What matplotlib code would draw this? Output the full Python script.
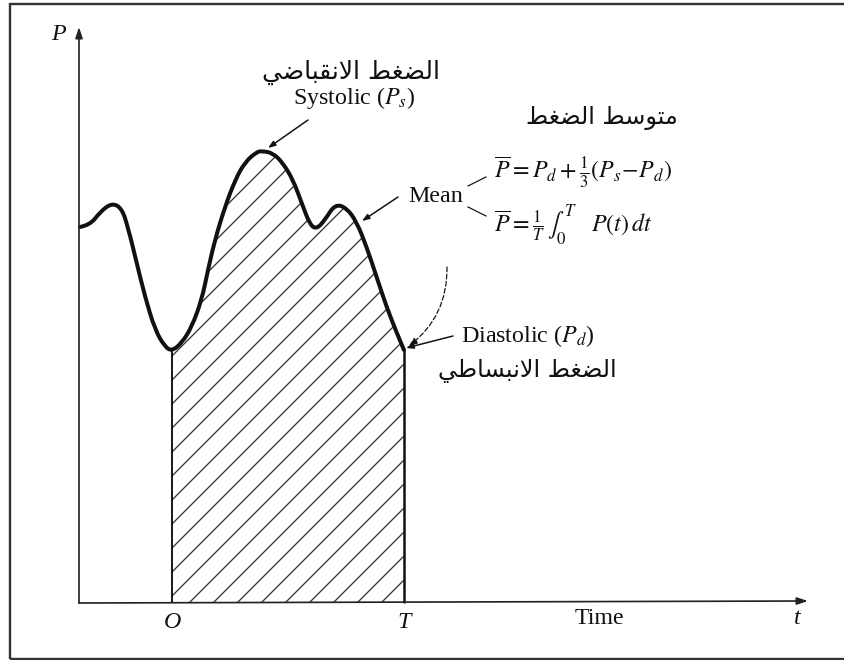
import matplotlib
matplotlib.use("Agg")
import matplotlib.pyplot as plt
from matplotlib.patches import FancyArrowPatch, PathPatch, Rectangle
from matplotlib.path import Path

# pressure curve: t in cycle units (O = 0, T = 1), P in arbitrary units
t = [-0.397, -0.353, -0.310, -0.260, -0.217, -0.190, -0.152, -0.116, -0.073, -0.030,
     0.000, 0.042, 0.085, 0.128, 0.155, 0.185, 0.228, 0.272, 0.315, 0.365,
     0.387, 0.435, 0.478, 0.522, 0.559, 0.595, 0.624, 0.659, 0.703, 0.753,
     0.796, 0.839, 0.882, 0.925, 0.969, 1.000]
p = [3.76, 3.78, 3.91, 4.00, 3.95, 3.76, 3.40, 3.06, 2.73, 2.56,
     2.52, 2.60, 2.76, 3.03, 3.33, 3.63, 3.96, 4.23, 4.41, 4.51,
     4.52, 4.50, 4.40, 4.23, 4.00, 3.78, 3.74, 3.83, 3.99, 3.95,
     3.81, 3.56, 3.26, 2.96, 2.70, 2.53]

tick_pos = [0, 1]
tick_labels = ["O", "T"]

systolic_ar = "الضغط الانقباضي"
mean_ar = "متوسط الضغط"
diastolic_ar = "الضغط الانبساطي"

# picture geometry: O sits at x=172px, T at x=404px, the time axis at y=603px
X0, SX, Y0, SY = 172, 232, 603, 100
W, H = 844, 660

# presentation forms (isolated, final, initial, medial)
FORMS = {
    "\u0627": ("\uFE8D", "\uFE8E", None, None),
    "\u0628": ("\uFE8F", "\uFE90", "\uFE91", "\uFE92"),
    "\u062A": ("\uFE95", "\uFE96", "\uFE97", "\uFE98"),
    "\u0633": ("\uFEB1", "\uFEB2", "\uFEB3", "\uFEB4"),
    "\u0636": ("\uFEBD", "\uFEBE", "\uFEBF", "\uFEC0"),
    "\u0637": ("\uFEC1", "\uFEC2", "\uFEC3", "\uFEC4"),
    "\u063A": ("\uFECD", "\uFECE", "\uFECF", "\uFED0"),
    "\u0642": ("\uFED5", "\uFED6", "\uFED7", "\uFED8"),
    "\u0644": ("\uFEDD", "\uFEDE", "\uFEDF", "\uFEE0"),
    "\u0645": ("\uFEE1", "\uFEE2", "\uFEE3", "\uFEE4"),
    "\u0646": ("\uFEE5", "\uFEE6", "\uFEE7", "\uFEE8"),
    "\u0648": ("\uFEED", "\uFEEE", None, None),
    "\u064A": ("\uFEF1", "\uFEF2", "\uFEF3", "\uFEF4"),
    "\uFEFB": ("\uFEFB", "\uFEFC", None, None),
}
RIGHT_ONLY = {"\u0627", "\u0648", "\uFEFB"}


def shape_arabic(text):
    # matplotlib has no shaping engine: pick joined forms by hand and flip for RTL
    chars = list(text.replace("\u0644\u0627", "\uFEFB"))
    out = []
    for i, ch in enumerate(chars):
        if ch not in FORMS:
            out.append(ch)
            continue
        prev = chars[i - 1] if i > 0 else ""
        nxt = chars[i + 1] if i + 1 < len(chars) else ""
        join_prev = prev in FORMS and prev not in RIGHT_ONLY
        join_next = ch not in RIGHT_ONLY and nxt in FORMS
        iso, fin, ini, med = FORMS[ch]
        if join_prev and join_next:
            out.append(med)
        elif join_prev:
            out.append(fin)
        elif join_next:
            out.append(ini)
        else:
            out.append(iso)
    return "".join(reversed(out))


def at(x, y):
    """picture pixel -> data coordinates"""
    return (x - X0) / SX, (Y0 - y) / SY


plt.rcParams["mathtext.fontset"] = "stix"
plt.rcParams["font.family"] = ["Liberation Serif", "DejaVu Serif"]
plt.rcParams["hatch.linewidth"] = 1.3

DPI = 72
fig = plt.figure(figsize=(W / DPI, H / DPI), dpi=DPI)
ax = fig.add_axes([0, 0, 1, 1])
ax.set_xlim(at(0, 0)[0], at(W, 0)[0])
ax.set_ylim(at(0, H)[1], at(0, 0)[1])
ax.axis("off")

ink = "#111111"

# outer frame (right side is cropped off in the picture)
fig.patches.append(Rectangle((10 / W, 1 - 659 / H), 1.0, (659 - 4) / H,
                             transform=fig.transFigure, fill=False,
                             lw=2.4, ec="#333333"))

# hatched area under one cycle
i0, i1 = t.index(tick_pos[0]), t.index(tick_pos[1])
ax.fill_between(t[i0:i1 + 1], p[i0:i1 + 1], 0, facecolor="none",
                edgecolor="#333333", hatch="/", linewidth=0)
ax.vlines(tick_pos, 0, [p[i0], p[i1]], colors=ink, lw=[1.9, 2.5])

# smooth pressure curve through the read points
verts = [(t[0], p[0])]
codes = [Path.MOVETO]
for k in range(1, len(t) - 1):
    verts += [(t[k], p[k]), ((t[k] + t[k + 1]) / 2, (p[k] + p[k + 1]) / 2)]
    codes += [Path.CURVE3, Path.CURVE3]
verts.append((t[-1], p[-1]))
codes.append(Path.LINETO)
ax.add_patch(PathPatch(Path(verts, codes), fill=False, lw=4.0, ec=ink,
                       capstyle="round", joinstyle="round"))

# axes with arrow heads
axis_kw = dict(arrowstyle="-|>,head_length=0.9,head_width=0.3", lw=1.7,
               color="#222222", shrinkA=0, shrinkB=0)
ax.annotate("", xy=at(79, 27), xytext=at(79, 603), arrowprops=axis_kw)
ax.annotate("", xy=at(808, 601), xytext=at(79, 603), arrowprops=axis_kw)

big = 24
for pos, lab in zip(tick_pos, tick_labels):
    ax.text(pos, at(0, 622)[1], lab, fontsize=big, style="italic",
            ha="center", va="center", color=ink)
ax.text(*at(599, 619), "Time", fontsize=big, ha="center", va="center", color=ink)
ax.text(*at(797, 618), "t", fontsize=big, style="italic", ha="center",
        va="center", color=ink)
ax.text(*at(58, 34), "P", fontsize=big, style="italic", ha="center",
        va="center", color=ink)

ar = 25
# systolic label
ax.text(*at(351, 72), shape_arabic(systolic_ar), fontsize=ar,
        family="DejaVu Sans", ha="center", va="center", color=ink)
ax.text(*at(354, 98), r"Systolic ($P_s$)", fontsize=big, ha="center",
        va="center", color=ink)
ptr_kw = dict(arrowstyle="-|>,head_length=0.6,head_width=0.22", lw=1.5,
              color=ink, shrinkA=0, shrinkB=0)
ax.annotate("", xy=at(268, 148), xytext=at(308, 120), arrowprops=ptr_kw)

# mean label and formulas
ax.text(*at(602, 118), shape_arabic(mean_ar), fontsize=ar - 1,
        family="DejaVu Sans", ha="center", va="center", color=ink)
ax.text(*at(436, 196), "Mean", fontsize=big, ha="center", va="center", color=ink)
ax.annotate("", xy=at(362, 221), xytext=at(398, 197), arrowprops=ptr_kw)
ax.plot(*zip(at(468, 186), at(486, 177)), color=ink, lw=1.2)
ax.plot(*zip(at(468, 207), at(486, 216)), color=ink, lw=1.2)
ax.text(*at(494, 172), r"$\overline{P} = P_d + \frac{1}{3}(P_s\!-\!P_d)$",
        fontsize=24, ha="left", va="center", color=ink)
ax.text(*at(494, 225), r"$\overline{P} = \frac{1}{T}\,\int_0^T\quad P(t)\,dt$",
        fontsize=24, ha="left", va="center", color=ink)

# diastolic label
ax.text(*at(528, 336), r"Diastolic ($P_d$)", fontsize=big, ha="center",
        va="center", color=ink)
ax.text(*at(527, 371), shape_arabic(diastolic_ar), fontsize=ar - 1,
        family="DejaVu Sans", ha="center", va="center", color=ink)
ax.annotate("", xy=at(406, 348), xytext=at(453, 336), arrowprops=ptr_kw)
ax.add_patch(FancyArrowPatch(at(447, 267), at(409, 346),
                             connectionstyle="arc3,rad=-0.25",
                             arrowstyle="-|>,head_length=0.5,head_width=0.2",
                             mutation_scale=14, lw=1.2, ls=(0, (4, 2)),
                             color=ink, shrinkA=0, shrinkB=0))

fig.savefig("out.png", dpi=DPI, facecolor="white")
